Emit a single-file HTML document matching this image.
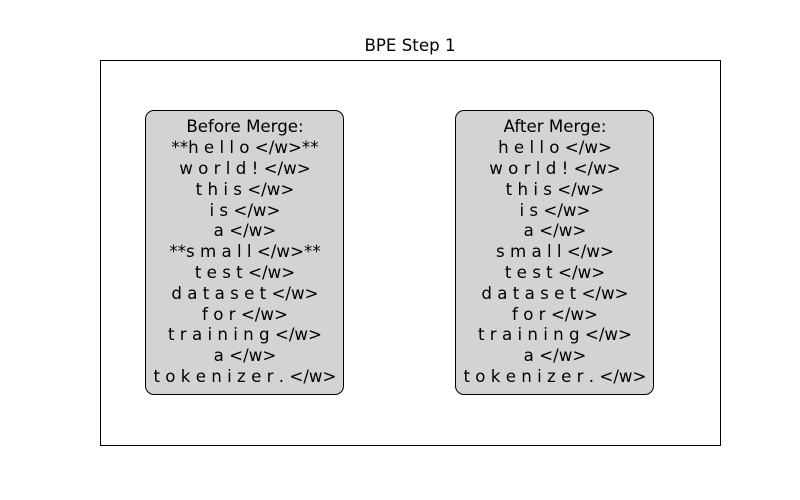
<!DOCTYPE html>
<html><head><meta charset="utf-8"><style>
html,body{margin:0;padding:0;background:#fff;}
body{width:800px;height:500px;position:relative;overflow:hidden;font-family:"DejaVu Sans","Liberation Sans",sans-serif;color:#000;}
.ax{position:absolute;left:100px;top:60px;width:619px;height:384px;border:1px solid #000;}
.title{position:absolute;left:0;width:820px;top:36px;text-align:center;font-size:16.67px;line-height:20px;}
.box{position:absolute;top:110px;width:197px;height:283px;background:#d3d3d3;border:1.3px solid #000;border-radius:9px;}
.txt{position:absolute;top:117.4px;width:300px;text-align:center;font-size:16.67px;line-height:20.8px;white-space:pre;}
</style></head><body>
<div class="title">BPE Step 1</div>
<div class="ax"></div>
<div class="box" style="left:145px"></div>
<div class="box" style="left:455px"></div>
<div class="txt" style="left:95px">Before Merge:
**h e l l o &lt;/w&gt;**
w o r l d ! &lt;/w&gt;
t h i s &lt;/w&gt;
i s &lt;/w&gt;
a &lt;/w&gt;
**s m a l l &lt;/w&gt;**
t e s t &lt;/w&gt;
d a t a s e t &lt;/w&gt;
f o r &lt;/w&gt;
t r a i n i n g &lt;/w&gt;
a &lt;/w&gt;
t o k e n i z e r . &lt;/w&gt;</div>
<div class="txt" style="left:405px">After Merge:
h e l l o &lt;/w&gt;
w o r l d ! &lt;/w&gt;
t h i s &lt;/w&gt;
i s &lt;/w&gt;
a &lt;/w&gt;
s m a l l &lt;/w&gt;
t e s t &lt;/w&gt;
d a t a s e t &lt;/w&gt;
f o r &lt;/w&gt;
t r a i n i n g &lt;/w&gt;
a &lt;/w&gt;
t o k e n i z e r . &lt;/w&gt;</div>
</body></html>
